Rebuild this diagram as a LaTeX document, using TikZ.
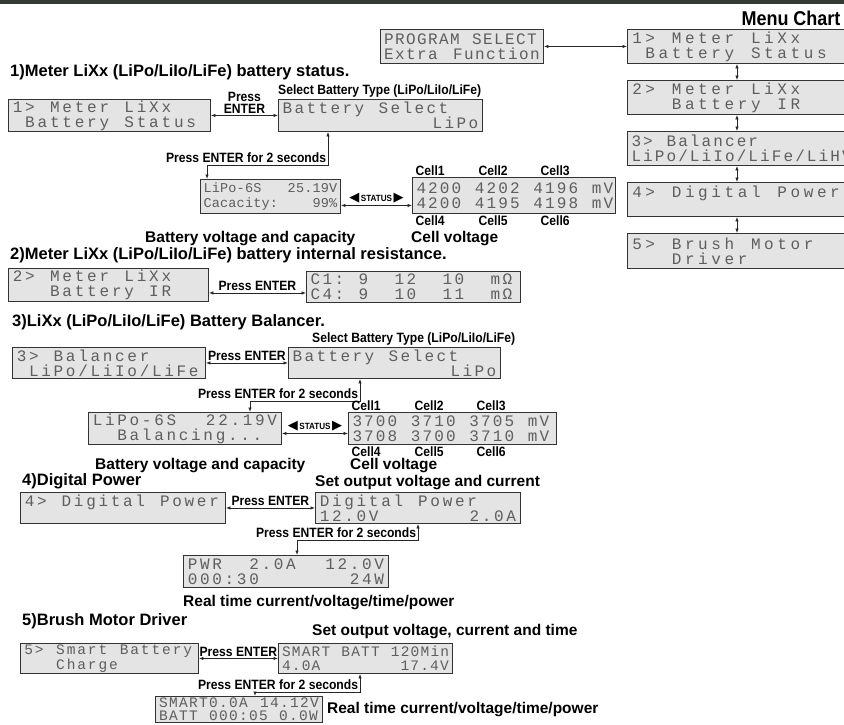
\documentclass[tikz,border=0pt]{standalone}
\usepackage{fontspec}
\setmainfont{Liberation Sans}
\newfontfamily\hfont[FakeStretch=0.9]{Liberation Sans}
\newfontfamily\symfont{DejaVu Sans}
\newfontfamily\lcdfam{Liberation Mono}
\usetikzlibrary{positioning,arrows.meta}
\definecolor{lcdfill}{HTML}{E4E4E4}
\definecolor{lcdline}{HTML}{333333}
\definecolor{lcdtext}{HTML}{5E5E5E}
\definecolor{band}{HTML}{343A36}
\setlength{\parindent}{0pt}
\newcommand\trileft{{\symfont\fontsize{13}{13}\selectfont ◀}}
\newcommand\triright{{\symfont\fontsize{13}{13}\selectfont ▶}}
% one LCD cell per character, _ is a blank cell
\newlength\lcdpitch
\makeatletter
\newcommand\lcd[1]{\lcd@scan#1\lcd@stop}
\def\lcd@stop{\lcd@stop}
\def\lcd@scan#1{\ifx#1\lcd@stop\else\lcd@cell{#1}\expandafter\lcd@scan\fi}
\def\lcd@cell#1{\ifx#1_\hspace*{\lcdpitch}\else\makebox[\lcdpitch][c]{#1}\fi}
\makeatother

\begin{document}
\begin{tikzpicture}[x=1pt, y=-1pt, >={Latex[length=4.5pt,width=3.5pt]},
  lcd/.style={draw=lcdline, fill=lcdfill, text=lcdtext, line width=0.9pt, anchor=north west, inner xsep=3pt, inner ysep=0pt, align=left},
  wide/.style={lcd, font={\lcdfam\fontsize{16}{15}\selectfont\setlength\lcdpitch{#1}}}, wide/.default=12.4pt,
  small/.style={lcd, font={\lcdfam\fontsize{14.5}{13.5}\selectfont\setlength\lcdpitch{#1}}}, small/.default=10pt,
  conn/.style={<->, draw=black!85, line width=0.8pt},
  ttl/.style={anchor=west, inner sep=0pt, font=\normalfont\bfseries\fontsize{16.5}{18}\selectfont},
  lbl/.style={inner sep=1.5pt, font=\hfont\bfseries\fontsize{13.5}{13}\selectfont},
  desc/.style={anchor=west, inner sep=0pt, font=\normalfont\bfseries\fontsize{15.5}{17}\selectfont},
  status/.style={above, inner sep=2pt, font=\hfont\bfseries\fontsize{9}{10}\selectfont}]
  \useasboundingbox (0,0) rectangle (844,724);
  \fill[band] (0,0) rectangle (844,4);

  % menu chart
  \node[inner sep=0pt, font=\hfont\bfseries\fontsize{20}{22}\selectfont] (menu) at (791,18) {Menu Chart};
  \node[wide=11pt, text width=157pt, minimum height=34pt] (prog) at (380,29) {\lcd{PROGRAM_SELECT}\\\lcd{Extra}\hfill\lcd{Function}};
  \node[wide=13.2pt, text width=213pt, minimum height=34pt] (m1) at (627,29) {\lcd{1>_Meter_LiXx}\\\lcd{_Battery_Status}};
  \node[wide=13.2pt, text width=213pt, minimum height=34pt] (m2) at (627,80) {\lcd{2>_Meter_LiXx}\\\lcd{___Battery_IR}};
  \node[wide=11.7pt, text width=213pt, minimum height=34pt] (m3) at (627,131) {\lcd{3>_Balancer}\\\lcd{LiPo/LiIo/LiFe/LiHV}};
  \node[wide=13.2pt, text width=213pt, minimum height=34pt] (m4) at (627,182) {\lcd{4>_Digital_Power}\\\mbox{}};
  \node[wide=13.2pt, text width=213pt, minimum height=35pt] (m5) at (627,233) {\lcd{5>_Brush_Motor}\\\lcd{___Driver}};
  \draw[conn] (prog) -- (m1);
  \foreach \a/\b in {m1/m2,m2/m3,m3/m4,m4/m5}
    \draw[conn] (\a) -- (\b);

  % 1) battery status
  \node[ttl] (t1) at (10,72) {1)Meter LiXx (LiPo/LiIo/LiFe) battery status.};
  \node[wide, text width=196pt, minimum height=32pt] (b1) at (8,99) {\lcd{1>_Meter_LiXx}\\\lcd{_Battery_Status}};
  \node[wide=12pt, text width=198pt, minimum height=32pt] (sel1) at (278,99) {\lcd{Battery_Select}\\\mbox{}\hfill\lcd{LiPo}};
  \node[lbl, anchor=south west, inner xsep=0pt] (st1) at (sel1.north west) {Select Battery Type (LiPo/LiIo/LiFe)};
  \draw[conn] (b1) -- node[lbl, above, align=center, font=\hfont\bfseries\fontsize{13.5}{12}\selectfont] {Press\\ENTER} (sel1);
  \node[lcd, font={\lcdfam\fontsize{13.5}{15}\selectfont\setlength\lcdpitch{8.3pt}}, text width=134pt, minimum height=34pt] (lipo1) at (200,179) {\lcd{LiPo-6S}\hfill\lcd{25.19V}\\\lcd{Cacacity:}\hfill\lcd{99\%}};
  \node[wide=11.7pt, text width=197pt, minimum height=36pt] (cell1) at (412,177) {\lcd{4200_4202_4196_mV}\\\lcd{4200_4195_4198_mV}};
  \draw[conn] ([xshift=50pt]sel1.south west) -- ++(0,33)
    node[lbl, anchor=south east] {Press ENTER for 2 seconds} -| ([xshift=7pt]lipo1.north west);
  \coordinate (s1) at ([yshift=-9pt]lipo1.east);
  \draw[conn] (s1) -- node[status] {\trileft\,STATUS\,\triright} (s1 -| cell1.west);
  \node[lbl, anchor=south west] (c11) at ([xshift=2pt]cell1.north west) {Cell1};
  \node[lbl, anchor=south west] (c12) at ([xshift=65pt]cell1.north west) {Cell2};
  \node[lbl, anchor=south west] (c13) at ([xshift=127pt]cell1.north west) {Cell3};
  \node[lbl, anchor=north west] (c14) at ([xshift=2pt]cell1.south west) {Cell4};
  \node[lbl, anchor=north west] (c15) at ([xshift=65pt]cell1.south west) {Cell5};
  \node[lbl, anchor=north west] (c16) at ([xshift=127pt]cell1.south west) {Cell6};
  \node[desc] (cap1) at (145,239) {Battery voltage and capacity};
  \node[desc] (cv1) at (411,239) {Cell voltage};

  % 2) internal resistance
  \node[ttl] (t2) at (10,255) {2)Meter LiXx (LiPo/LiIo/LiFe) battery internal resistance.};
  \node[wide, text width=194pt, minimum height=33pt] (b2) at (8,268) {\lcd{2>_Meter_LiXx}\\\lcd{___Battery_IR}};
  \node[wide=12pt, text width=208pt, minimum height=31pt] (ir) at (306,271) {\lcd{C1:_9__12__10__mΩ}\\\lcd{C4:_9__10__11__mΩ}};
  \coordinate (a2) at ([yshift=-8pt]b2.east);
  \draw[conn] (a2) -- node[lbl, above] {Press ENTER} (a2 -| ir.west);

  % 3) balancer
  \node[ttl] (t3) at (12,322) {3)LiXx (LiPo/LiIo/LiFe) Battery Balancer.};
  \node[wide=12.3pt, text width=187pt, minimum height=31pt] (b3) at (12,347) {\lcd{3>_Balancer}\\\lcd{_LiPo/LiIo/LiFe}};
  \node[wide=12pt, text width=206pt, minimum height=31pt] (sel3) at (288,347) {\lcd{Battery_Select}\\\mbox{}\hfill\lcd{LiPo}};
  \node[lbl, anchor=south west, inner xsep=0pt] (st3) at ([xshift=24pt]sel3.north west) {Select Battery Type (LiPo/LiIo/LiFe)};
  \draw[conn] (b3) -- node[lbl, above] {Press ENTER} (sel3);
  \node[wide=12.3pt, text width=187pt, minimum height=32pt] (lipo3) at (88,412) {\lcd{LiPo-6S}\hfill\lcd{22.19V}\\\lcd{__Balancing...}};
  \node[wide=11.7pt, text width=202pt, minimum height=32pt] (cell3) at (348,412) {\lcd{3700_3710_3705_mV}\\\lcd{3708_3700_3710_mV}};
  \draw[conn] ([xshift=72pt]sel3.south west) -- ++(0,22)
    node[lbl, anchor=south east] {Press ENTER for 2 seconds} -| ([xshift=162pt]lipo3.north west);
  \coordinate (s3) at ([yshift=-5pt]lipo3.east);
  \draw[conn] (s3) -- node[status] {\trileft\,STATUS\,\triright} (s3 -| cell3.west);
  \node[lbl, anchor=south west] (c31) at ([xshift=2pt]cell3.north west) {Cell1};
  \node[lbl, anchor=south west] (c32) at ([xshift=65pt]cell3.north west) {Cell2};
  \node[lbl, anchor=south west] (c33) at ([xshift=127pt]cell3.north west) {Cell3};
  \node[lbl, anchor=north west] (c34) at ([xshift=2pt]cell3.south west) {Cell4};
  \node[lbl, anchor=north west] (c35) at ([xshift=65pt]cell3.south west) {Cell5};
  \node[lbl, anchor=north west] (c36) at ([xshift=127pt]cell3.south west) {Cell6};
  \node[desc] (cap3) at (95,466) {Battery voltage and capacity};
  \node[desc] (cv3) at (350,466) {Cell voltage};

  % 4) digital power
  \node[ttl] (t4) at (22,481) {4)Digital Power};
  \node[wide=12.3pt, text width=199pt, minimum height=31pt] (b4) at (20,492) {\lcd{4>_Digital_Power}\\\mbox{}};
  \node[wide=12.3pt, text width=199pt, minimum height=31pt] (dp) at (315,492) {\lcd{Digital_Power}\\\lcd{12.0V}\hfill\lcd{2.0A}};
  \node[desc, anchor=south west] (so4) at ([yshift=2pt]dp.north west) {Set output voltage and current};
  \draw[conn] (b4) -- node[lbl, above] {Press ENTER} (dp);
  \node[wide=12.3pt, text width=199pt, minimum height=32pt] (pwr) at (183,555) {\lcd{PWR__2.0A}\hfill\lcd{12.0V}\\\lcd{000:30}\hfill\lcd{24W}};
  \draw[conn] ([xshift=103pt]dp.south west) -- ++(0,16)
    node[lbl, anchor=south east] {Press ENTER for 2 seconds} -| ([xshift=114pt]pwr.north west);
  \node[desc] (rt4) at (183,603) {Real time current/voltage/time/power};

  % 5) brush motor driver
  \node[ttl] (t5) at (22,621) {5)Brush Motor Driver};
  \node[small=10.6pt, text width=172pt, minimum height=30pt] (b5) at (20,643) {\lcd{5>_Smart_Battery}\\\lcd{___Charge}};
  \node[small=9.9pt, text width=168pt, minimum height=30pt] (sb) at (278,643) {\lcd{SMART_BATT_120Min}\\\lcd{4.0A}\hfill\lcd{17.4V}};
  \node[desc] (so5) at (312,632) {Set output voltage, current and time};
  \draw[conn] (b5) -- node[lbl, above] {Press ENTER} (sb);
  \node[small=10pt, text width=161pt, minimum height=26pt] (sm) at (155,696) {\lcd{SMART0.0A}\hfill\lcd{14.12V}\\\lcd{BATT_000:05_0.0W}};
  \draw[conn] ([xshift=82pt]sb.south west) -- ++(0,18)
    node[lbl, anchor=south east] {Press ENTER for 2 seconds} -| ([xshift=100pt]sm.north west);
  \node[desc, right=4pt of sm] (rt5) {Real time current/voltage/time/power};
\end{tikzpicture}
\end{document}
